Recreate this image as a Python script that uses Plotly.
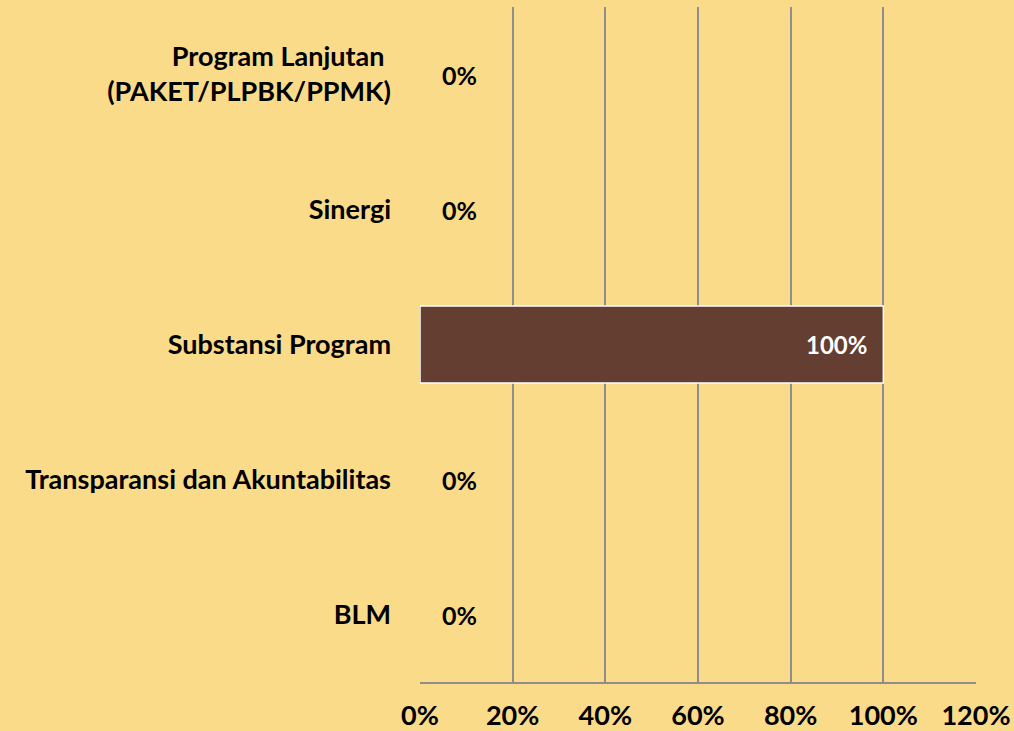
import plotly.graph_objects as go

categories = ["BLM", "Transparansi dan Akuntabilitas", "Substansi Program", "Sinergi",
              "Program Lanjutan<br>(PAKET/PLPBK/PPMK)"]
values = [0, 0, 1.0, 0, 0]
value_labels = ["0%", "0%", "100%", "0%", "0%"]
x_ticks = [0, 0.2, 0.4, 0.6, 0.8, 1.0, 1.2]
x_ticklabels = ["0%", "20%", "40%", "60%", "80%", "100%", "120%"]

BG = "#FADB8A"
BAR = "#633E31"
GRID = "#8E8E8E"
FONT = "Lato"

fig = go.Figure()
fig.add_trace(go.Bar(
    y=categories, x=values, orientation="h",
    marker=dict(color=BAR,
                line=dict(color=["#FFFFFF" if v > 0 else "rgba(0,0,0,0)" for v in values],
                          width=1.5)),
    width=0.57, hoverinfo="skip",
))

annotations = []
for cat, v, lab in zip(categories, values, value_labels):
    if v > 0:
        annotations.append(dict(x=v, y=cat, xref="x", yref="y", text=f"<b>{lab}</b>",
                                showarrow=False, xanchor="right", xshift=-14,
                                font=dict(family=FONT, size=24, color="#FFFFFF")))
    else:
        annotations.append(dict(x=v, y=cat, xref="x", yref="y", text=f"<b>{lab}</b>",
                                showarrow=False, xanchor="left", xshift=20,
                                font=dict(family=FONT, size=25, color="#000000")))

ytext = [f"<b>{c.replace('<br>', '&nbsp;<br>')}</b>" for c in categories]

fig.update_layout(
    width=1014, height=731,
    paper_bgcolor=BG, plot_bgcolor=BG,
    margin=dict(l=420, r=38, t=7, b=49, autoexpand=False),
    showlegend=False,
    annotations=annotations,
    font=dict(family=FONT, color="#000000"),
    xaxis=dict(range=[0, 1.2], tickvals=x_ticks, ticktext=[f"<b>{t}</b>" for t in x_ticklabels],
               showgrid=True, gridcolor=GRID, gridwidth=1.5,
               showline=True, linecolor=GRID, linewidth=1.5,
               zeroline=False, ticks="", tickfont=dict(family=FONT, size=27, color="#000000"),
               ticklabelstandoff=9, automargin=False, fixedrange=True),
    yaxis=dict(categoryorder="array", categoryarray=categories,
               tickvals=categories, ticktext=ytext,
               showgrid=False, zeroline=False, showline=False, ticks="",
               tickfont=dict(family=FONT, size=27, color="#000000"),
               ticklabelstandoff=28, automargin=False, fixedrange=True),
)

fig.write_html("out.html", config={"displayModeBar": False},
               post_script="document.body.style.margin='0';document.body.style.background='" + BG + "';")
